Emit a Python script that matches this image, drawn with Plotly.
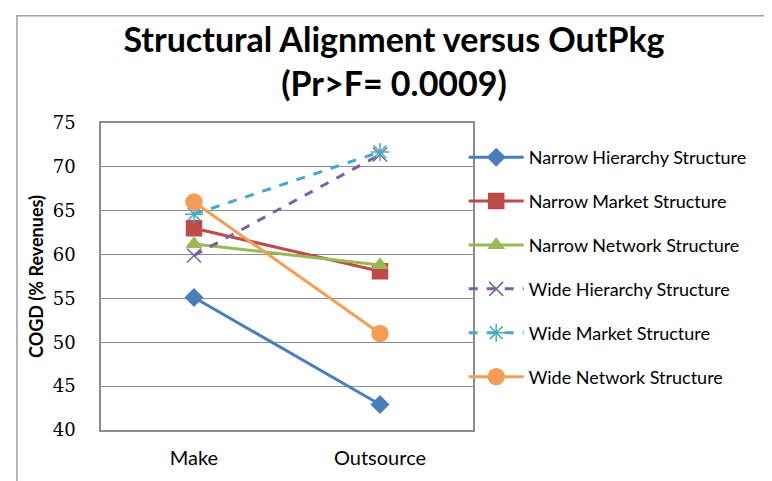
import plotly.graph_objects as go

categories = ["Make", "Outsource"]
series_names = [
    "Narrow Hierarchy Structure",
    "Narrow Market Structure",
    "Narrow Network Structure",
    "Wide Hierarchy Structure",
    "Wide Market Structure",
    "Wide Network Structure",
]
narrow_hierarchy = [55.1, 42.9]
narrow_market = [63.0, 58.1]
narrow_network = [61.2, 58.8]
wide_hierarchy = [59.9, 71.4]
wide_market = [64.6, 71.7]
wide_network = [66.0, 51.0]
y_ticks = [40, 45, 50, 55, 60, 65, 70, 75]

values = [narrow_hierarchy, narrow_market, narrow_network,
          wide_hierarchy, wide_market, wide_network]
colors = ["#4A7EBB", "#BE4B48", "#98B954", "#7D60A0", "#46AAC5", "#F59D56"]
symbols = ["diamond", "square", "triangle-up", "x-thin-open", "asterisk-open", "circle"]
sizes = [13, 15, 13, 14, 15, 16]
dashes = ["solid", "solid", "solid", "dash", "dash", "solid"]

fig = go.Figure()
for i, name in enumerate(series_names):
    fig.add_trace(go.Scatter(
        x=categories, y=values[i], name=name, mode="lines+markers",
        legendgroup=name,
        line=dict(color=colors[i], width=3, dash=dashes[i]),
        marker=dict(symbol=symbols[i], size=sizes[i], color=colors[i],
                    line=dict(color=colors[i], width=1.5)),
    ))

fig.update_layout(
    width=772, height=481,
    paper_bgcolor="white", plot_bgcolor="white",
    margin=dict(l=93, r=307, t=115, b=59),
    font=dict(family="Lato, 'Open Sans', sans-serif", color="black"),
    title=dict(text="<b>Structural Alignment versus OutPkg<br>(Pr>F= 0.0009)</b>",
               x=0.5, xanchor="center", y=0.908, yanchor="middle",
               font=dict(size=34, color="black")),
    legend=dict(x=0.975, xanchor="left", y=0.948, yanchor="top",
                traceorder="grouped", tracegroupgap=17.5, itemwidth=55,
                font=dict(size=18), bgcolor="rgba(0,0,0,0)"),
    showlegend=True,
)
fig.update_xaxes(type="category", showgrid=False, showline=True, mirror=True,
                 linecolor="#8C8C8C", linewidth=1.5, ticks="",
                 ticklabelstandoff=9,
                 tickfont=dict(size=20), range=[-0.5, 1.5])
fig.update_yaxes(range=[40, 75], tickvals=y_ticks, showgrid=True,
                 gridcolor="#8C8C8C", gridwidth=1.2, showline=True, mirror=True,
                 linecolor="#8C8C8C", linewidth=1.5, zeroline=False,
                 ticks="", ticklabelstandoff=20,
                 tickfont=dict(size=18, family="'DejaVu Serif', serif"),
                 title=dict(text="<b>COGD (% Revenues)</b>", font=dict(size=18),
                            standoff=4))
fig.add_shape(type="rect", xref="paper", yref="paper", x0=-0.226, x1=1.9,
              y0=-0.3, y1=1.349, line=dict(color="#A0A0A0", width=1.5),
              layer="below")

fig.write_html("out.html")
